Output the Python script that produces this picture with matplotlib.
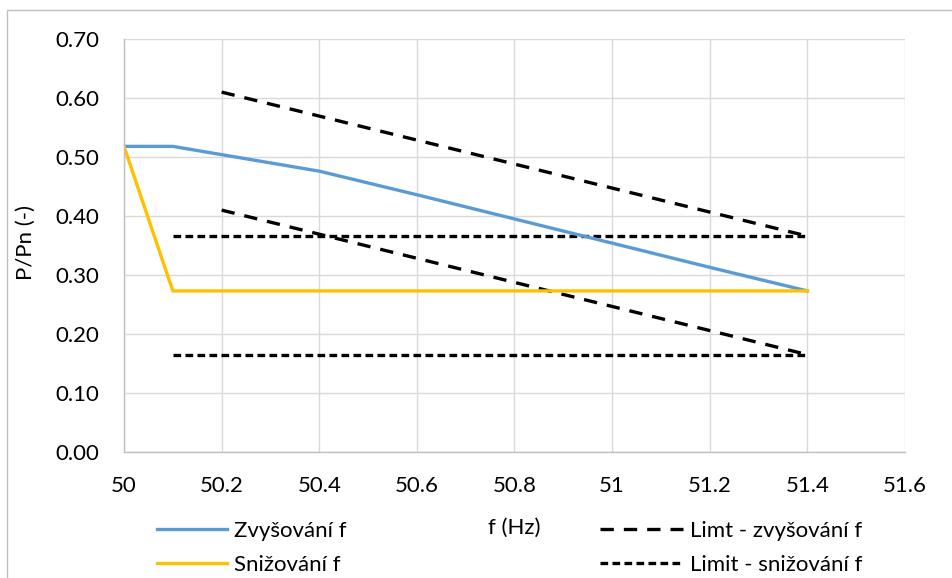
import matplotlib
matplotlib.use("Agg")
import matplotlib.pyplot as plt
from matplotlib.patches import Rectangle
from matplotlib.lines import Line2D

plt.rcParams['font.family'] = ['Lato', 'DejaVu Sans']

# data
f_up = [50.0, 50.1, 50.4, 50.6, 50.8, 51.0, 51.2, 51.4]
p_up = [0.518, 0.518, 0.476, 0.436, 0.395, 0.354, 0.313, 0.273]

f_down = [50.0, 50.1, 51.4]
p_down = [0.518, 0.273, 0.273]

f_lim_up = [50.2, 51.4]
p_lim_up_hi = [0.610, 0.366]
p_lim_up_lo = [0.410, 0.165]

f_lim_down = [50.1, 51.4]
p_lim_down_hi = [0.366, 0.366]
p_lim_down_lo = [0.165, 0.165]

x_ticks = [50, 50.2, 50.4, 50.6, 50.8, 51, 51.2, 51.4, 51.6]
y_ticks = [0.0, 0.1, 0.2, 0.3, 0.4, 0.5, 0.6, 0.7]

blue = '#5B9BD5'
yellow = '#FFC000'
grid = '#D9D9D9'
lw = 2.4
long_dash = (4.0, 3.0)
short_dash = (2.3, 1.3)
fs = 16

fig = plt.figure(figsize=(9.53, 5.78), dpi=100)
ax = fig.add_axes([124 / 953, 1 - 452 / 578, (905 - 124) / 953, (452 - 39) / 578])

# chart border (cut by the image edge)
fig.patches.append(Rectangle((7 / 953, -0.5), 2, 0.5 + 1 - 10 / 578,
                             transform=fig.transFigure, fill=False,
                             edgecolor='#BFBFBF', lw=1.0, zorder=0))

ax.plot(f_lim_up, p_lim_up_hi, color='black', lw=lw, dashes=long_dash)
ax.plot(f_lim_up, p_lim_up_lo, color='black', lw=lw, dashes=long_dash)
ax.plot(f_lim_down, p_lim_down_hi, color='black', lw=lw, dashes=short_dash)
ax.plot(f_lim_down, p_lim_down_lo, color='black', lw=lw, dashes=short_dash)
ax.plot(f_up, p_up, color=blue, lw=lw)
ax.plot(f_down, p_down, color=yellow, lw=lw)

ax.set_xlim(50, 51.6)
ax.set_ylim(0, 0.7)
ax.set_xticks(x_ticks)
ax.set_xticklabels([f"{v:g}" for v in x_ticks])
ax.set_yticks(y_ticks)
ax.set_yticklabels([f"{v:.2f}" for v in y_ticks])
ax.tick_params(length=0, labelsize=fs)
ax.tick_params(axis='x', pad=17)
ax.tick_params(axis='y', pad=18)
ax.grid(True, color=grid, lw=1.0)
ax.set_axisbelow(True)
for s in ['top', 'right']:
    ax.spines[s].set_visible(False)
for s in ['left', 'bottom']:
    ax.spines[s].set_color('#BFBFBF')
    ax.spines[s].set_linewidth(1.0)

fig.text(514 / 953, 1 - 528 / 578, 'f (Hz)', ha='center', va='center', fontsize=fs)
fig.text(26 / 953, 1 - 242 / 578, 'P/Pn (-)', ha='center', va='center',
         rotation=90, fontsize=fs)

h_left = [Line2D([], [], color=blue, lw=lw), Line2D([], [], color=yellow, lw=lw)]
fig.legend(h_left, ['Zvyšování f', 'Snižování f'], loc='center left',
           bbox_to_anchor=(157 / 953, 1 - 548 / 578), frameon=False,
           fontsize=fs, handlelength=3.15, handletextpad=0.3,
           labelspacing=0.63, borderpad=0, borderaxespad=0)
h_right = [Line2D([], [], color='black', lw=lw, dashes=long_dash),
           Line2D([], [], color='black', lw=lw, dashes=short_dash)]
fig.legend(h_right, ['Limt - zvyšování f', 'Limit - snižování f'],
           loc='center left', bbox_to_anchor=(600 / 953, 1 - 548 / 578),
           frameon=False, fontsize=fs, handlelength=3.75,
           handletextpad=0.3, labelspacing=0.63, borderpad=0, borderaxespad=0)

fig.savefig('out.png', dpi=100)
